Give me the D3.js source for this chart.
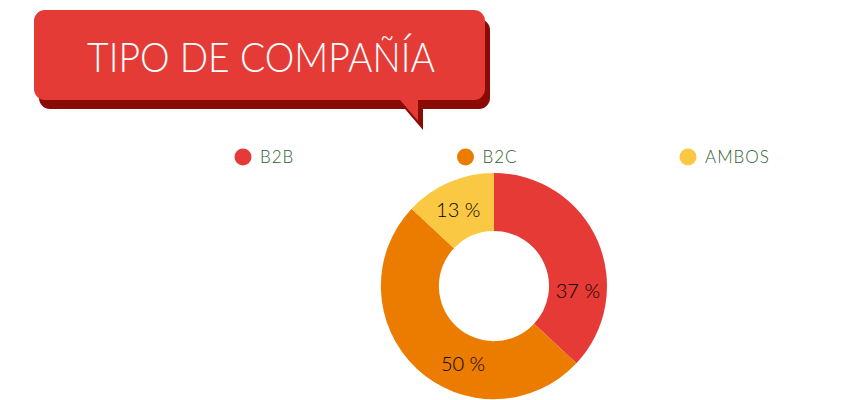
<!DOCTYPE html>
<html>
<head>
<meta charset="utf-8">
<script src="https://cdn.jsdelivr.net/npm/d3@7"></script>
<style>
  html, body { margin: 0; padding: 0; background: #ffffff; }
  svg { display: block; }
</style>
</head>
<body>
<svg id="chart" width="850" height="400"></svg>
<script>
// ---- data ----
const title = "TIPO DE COMPAÑÍA";
const categories = ["B2B", "B2C", "AMBOS"];
const values = [37, 50, 13];
const colors = ["#e53a35", "#eb7c00", "#fbc843"];

// ---- drawing ----
const svg = d3.select("#chart");
const font = "Lato, 'Open Sans', 'DejaVu Sans', sans-serif";

// Title speech bubble
function bubblePath(x0, y0, x1, y1, r, tx0, tx1, ty) {
  const p = d3.path();
  p.moveTo(x0 + r, y0);
  p.lineTo(x1 - r, y0);
  p.arcTo(x1, y0, x1, y0 + r, r);
  p.lineTo(x1, y1 - r);
  p.arcTo(x1, y1, x1 - r, y1, r);
  p.lineTo(tx1, y1);
  p.lineTo(tx1, ty);
  p.lineTo(tx0, y1);
  p.lineTo(x0 + r, y1);
  p.arcTo(x0, y1, x0, y1 - r, r);
  p.lineTo(x0, y0 + r);
  p.arcTo(x0, y0, x0 + r, y0, r);
  p.closePath();
  return p.toString();
}
const bub = { x0: 34, y0: 10, x1: 485, y1: 100, r: 11, tx0: 400, tx1: 418, ty: 121 };
svg.append("path")
  .attr("d", bubblePath(bub.x0, bub.y0, bub.x1, bub.y1, bub.r, bub.tx0, bub.tx1, bub.ty))
  .attr("transform", "translate(5,9)")
  .attr("fill", "#8a0b06");
svg.append("path")
  .attr("d", bubblePath(bub.x0, bub.y0, bub.x1, bub.y1, bub.r, bub.tx0, bub.tx1, bub.ty))
  .attr("fill", "#e53b36");
svg.append("text")
  .attr("x", 87).attr("y", 72)
  .attr("textLength", 348).attr("lengthAdjust", "spacingAndGlyphs")
  .attr("font-family", font).attr("font-weight", 300)
  .attr("font-size", 41).attr("fill", "#ffffff")
  .text(title);

// Legend
const legendX = d3.scalePoint().domain(categories).range([243, 688]);
const lg = svg.append("g").selectAll("g").data(categories).enter().append("g")
  .attr("transform", d => `translate(${legendX(d)},157)`);
lg.append("circle").attr("r", 8.5).attr("fill", (d, i) => colors[i]);
lg.append("text").attr("x", 17).attr("y", 6)
  .attr("font-family", font).attr("font-weight", 300).attr("font-size", 17)
  .attr("letter-spacing", 1)
  .attr("fill", "#2c5e2a").text(d => d);

// Donut
const cx = 494, cy = 286, rOuter = 113, rInner = 55;
const pie = d3.pie().sort(null).value(d => d)(values);
const arc = d3.arc().innerRadius(rInner).outerRadius(rOuter);
const g = svg.append("g").attr("transform", `translate(${cx},${cy})`);
g.selectAll("path").data(pie).enter().append("path")
  .attr("d", arc).attr("fill", (d, i) => colors[i]);

// label placement (fraction along each slice's angular span)
const labelFrac = [0.70, 0.38, 0.46];
const labelR = 84;
g.selectAll("text.lbl").data(pie).enter().append("text")
  .attr("class", "lbl")
  .attr("transform", (d, i) => {
    const a = d.startAngle + (d.endAngle - d.startAngle) * labelFrac[i];
    return `translate(${labelR * Math.sin(a)},${-labelR * Math.cos(a)})`;
  })
  .attr("text-anchor", "middle").attr("dy", "0.36em")
  .attr("font-family", font).attr("font-weight", 300)
  .attr("font-size", 20).attr("fill", "#000000")
  .text(d => d.value + " %");
</script>
</body>
</html>
